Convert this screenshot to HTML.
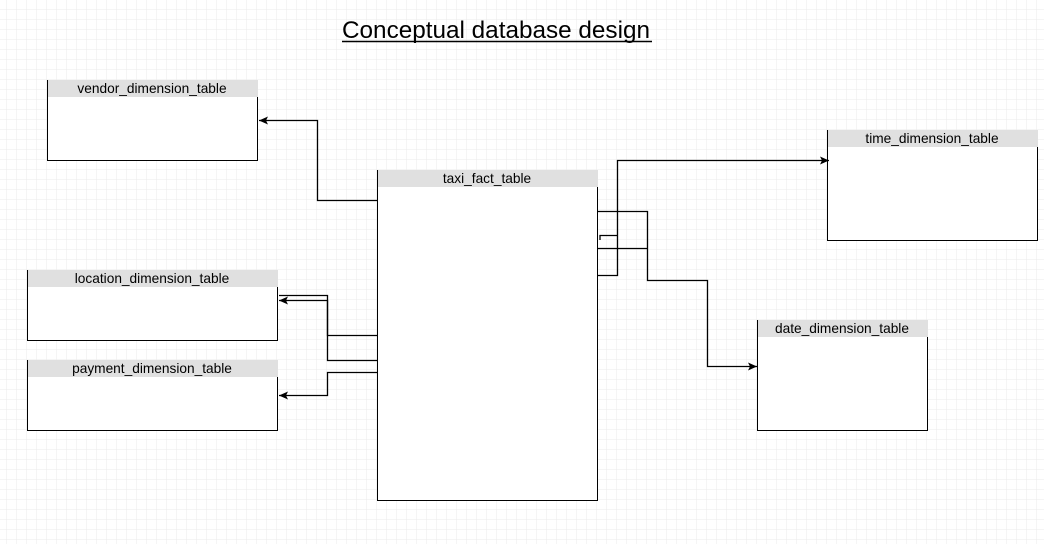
<!DOCTYPE html>
<html><head><style>
html,body{margin:0;padding:0;background:#fff;}
svg{display:block;}
text{font-family:"Liberation Sans",sans-serif;}
</style></head><body>
<svg width="1044" height="544" xmlns="http://www.w3.org/2000/svg">
<defs>
<pattern id="minor" x="7" y="0" width="10" height="10" patternUnits="userSpaceOnUse">
<path d="M10 0V10M0 10H10" stroke="#ebebeb" stroke-width="1" fill="none"/>
</pattern>
<pattern id="major" x="-3" y="0" width="40" height="40" patternUnits="userSpaceOnUse">
<path d="M40.5 0V40M0 40.5H40" stroke="#dadada" stroke-width="1" fill="none"/>
</pattern>
<marker id="ar" markerWidth="10" markerHeight="10" refX="9" refY="5" orient="auto" markerUnits="userSpaceOnUse">
<path d="M0,1 L9,5 L0,9 L2,5 Z" fill="#000"/>
</marker>
</defs>
<rect width="1044" height="544" fill="url(#minor)"/>
<rect width="1044" height="544" fill="url(#major)"/>

<text x="342" y="38" font-size="24.3" fill="#000">Conceptual database design</text>
<line x1="342" y1="41.5" x2="652" y2="41.5" stroke="#000" stroke-width="1.5"/>

<g stroke="#000" stroke-width="1" fill="#fff">
<rect x="47.5" y="80.5" width="210" height="80"/>
<rect x="27.5" y="270.5" width="250" height="70"/>
<rect x="27.5" y="360.5" width="250" height="70"/>
<rect x="377.5" y="170.5" width="220" height="330"/>
<rect x="827.5" y="130.5" width="210" height="110"/>
<rect x="757.5" y="320.5" width="170" height="110"/>
</g>
<g fill="#e0e0e0">
<rect x="48" y="80" width="210" height="17"/>
<rect x="28" y="270" width="250" height="17"/>
<rect x="28" y="360" width="250" height="17"/>
<rect x="378" y="170" width="220" height="17"/>
<rect x="828" y="130" width="210" height="17"/>
<rect x="758" y="320" width="170" height="17"/>
</g>
<g font-size="13.7" text-anchor="middle" fill="#000">
<text x="152" y="93">vendor_dimension_table</text>
<text x="152" y="283">location_dimension_table</text>
<text x="152" y="373">payment_dimension_table</text>
<text x="487" y="183">taxi_fact_table</text>
<text x="932" y="143">time_dimension_table</text>
<text x="842" y="333">date_dimension_table</text>
</g>

<g stroke="#000" stroke-width="1.3" fill="none">
<path d="M377 200.5H317.5V120.5H259" marker-end="url(#ar)"/>
<path d="M377 335.5H327.5V295.5H279"/>
<path d="M377 360.5H327.5V300.5H279" marker-end="url(#ar)"/>
<path d="M377 372.5H327.5V395.5H279" marker-end="url(#ar)"/>
<path d="M597 275.5H617.5V160.5H829" marker-end="url(#ar)"/>
<path d="M600 240V235.5H617.5"/>
<path d="M597 211.5H647.5V280.5H707.5V366.5H757" marker-end="url(#ar)"/>
<path d="M597 248.5H647.5"/>
</g>
</svg>
</body></html>
